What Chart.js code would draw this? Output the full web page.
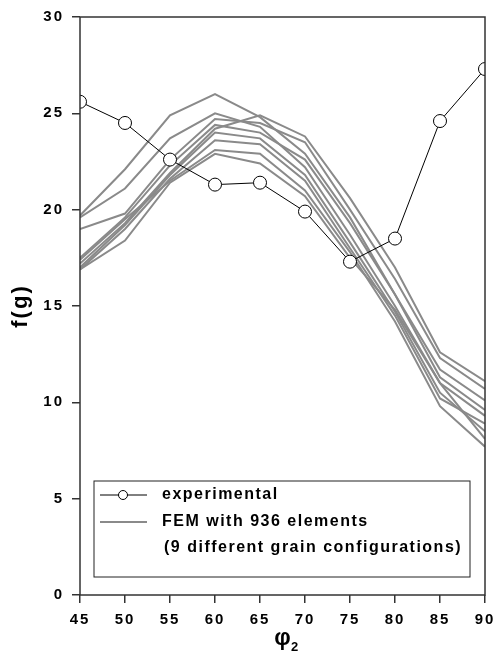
<!DOCTYPE html>
<html>
<head>
<meta charset="utf-8">
<script src="https://cdn.jsdelivr.net/npm/chart.js@4/dist/chart.umd.min.js"></script>
<style>
  html, body { margin: 0; padding: 0; background: #fff; }
  #wrap { width: 493px; height: 659px; }
</style>
</head>
<body>
<div id="wrap"><canvas id="chart"></canvas></div>
<script>
// phi2 angles
const angles = [45, 50, 55, 60, 65, 70, 75, 80, 85, 90];

// measured values
const experimental = [25.6, 24.5, 22.6, 21.3, 21.4, 19.9, 17.3, 18.5, 24.6, 27.3];

// FEM runs, 9 grain configurations
const fem1 = [19.7, 22.1, 24.9, 26.0, 24.8, 22.9, 19.6, 15.6, 11.7, 10.1];
const fem2 = [17.2, 19.3, 21.9, 24.2, 24.9, 23.8, 20.6, 17.0, 12.6, 11.1];
const fem3 = [19.6, 21.1, 23.7, 25.0, 24.3, 22.2, 18.7, 15.0, 11.0, 9.3];
const fem4 = [19.0, 19.8, 22.6, 24.7, 24.5, 23.5, 20.0, 16.4, 12.3, 10.7];
const fem5 = [17.5, 19.6, 22.3, 24.4, 24.0, 22.6, 19.3, 15.6, 11.3, 9.6];
const fem6 = [17.0, 19.2, 21.8, 24.0, 23.7, 21.8, 18.3, 14.7, 10.5, 8.5];
const fem7 = [16.9, 19.0, 21.6, 23.6, 23.4, 21.5, 18.0, 14.5, 10.2, 8.9];
const fem8 = [17.4, 19.5, 21.5, 23.1, 22.9, 21.0, 17.8, 14.2, 9.8, 7.7];
const fem9 = [16.9, 18.4, 21.4, 22.9, 22.4, 20.7, 17.5, 14.8, 11.0, 8.1];
const femRuns = [fem1, fem2, fem3, fem4, fem5, fem6, fem7, fem8, fem9];

const legendLabels = ['experimental', 'FEM with 936 elements', '(9 different grain configurations)'];

const toPoints = vals => vals.map((v, i) => ({ x: angles[i], y: v }));
const FONT = '"Liberation Sans", Arial, sans-serif';

const datasets = [{
    label: 'experimental',
    data: toPoints(experimental),
    borderColor: '#000',
    borderWidth: 1,
    pointRadius: 6.5,
    pointBackgroundColor: '#fff',
    pointBorderColor: '#000',
    pointBorderWidth: 1,
    tension: 0
}];
femRuns.forEach((run, i) => {
    datasets.push({
        label: 'FEM ' + (i + 1),
        data: toPoints(run),
        borderColor: '#8a8a8a',
        borderWidth: 2,
        pointRadius: 0,
        tension: 0
    });
});

// frame, legend box and x title drawn by hand
const decorPlugin = {
    id: 'decor',
    beforeDraw(chart) {
        // the original tick labels are loosely spaced
        chart.ctx.letterSpacing = '2px';
    },
    afterDatasetsDraw(chart) {
        const { ctx, chartArea: a } = chart;
        ctx.save();
        // frame
        ctx.strokeStyle = '#333';
        ctx.lineWidth = 1.5;
        ctx.strokeRect(a.left, a.top, a.right - a.left, a.bottom - a.top);

        // legend box
        const bx = a.left + 14, by = a.bottom - 114;
        const bw = a.right - a.left - 29, bh = 96;
        ctx.fillStyle = '#fff';
        ctx.fillRect(bx, by, bw, bh);
        ctx.strokeStyle = '#222';
        ctx.lineWidth = 1;
        ctx.strokeRect(bx, by, bw, bh);

        const y1 = by + 14, y2 = by + 41, y3 = by + 67;
        // experimental sample
        ctx.strokeStyle = '#000';
        ctx.beginPath();
        ctx.moveTo(bx + 6, y1); ctx.lineTo(bx + 53, y1);
        ctx.stroke();
        ctx.beginPath();
        ctx.arc(bx + 29, y1, 4.5, 0, Math.PI * 2);
        ctx.fillStyle = '#fff';
        ctx.fill();
        ctx.stroke();
        // FEM sample
        ctx.strokeStyle = '#8a8a8a';
        ctx.lineWidth = 2;
        ctx.beginPath();
        ctx.moveTo(bx + 6, y2); ctx.lineTo(bx + 53, y2);
        ctx.stroke();

        ctx.fillStyle = '#000';
        ctx.font = 'bold 16px ' + FONT;
        ctx.letterSpacing = '1.5px';
        ctx.textBaseline = 'middle';
        ctx.textAlign = 'left';
        ctx.fillText(legendLabels[0], bx + 68, y1);
        ctx.fillText(legendLabels[1], bx + 68, y2);
        ctx.fillText(legendLabels[2], bx + 70, y3);

        // x axis title phi_2
        ctx.letterSpacing = '0px';
        const cx = (a.left + a.right) / 2;
        ctx.font = 'bold 23px ' + FONT;
        ctx.textAlign = 'center';
        ctx.fillText('φ', cx, a.bottom + 44);
        ctx.font = 'bold 13px ' + FONT;
        ctx.fillText('2', cx + 12, a.bottom + 52);
        ctx.restore();
    }
};

new Chart(document.getElementById('chart'), {
    type: 'line',
    data: { datasets },
    options: {
        responsive: true,
        maintainAspectRatio: false,
        animation: false,
        events: [],
        layout: { padding: { top: 17, right: 8, left: 0, bottom: 0 } },
        plugins: {
            legend: { display: false },
            tooltip: { enabled: false }
        },
        scales: {
            x: {
                type: 'linear',
                min: 45,
                max: 90,
                border: { display: false },
                grid: { drawOnChartArea: false, tickLength: 8, color: '#333', lineWidth: 1.5 },
                ticks: {
                    stepSize: 5,
                    padding: 8,
                    color: '#000',
                    font: { family: FONT, size: 15, weight: 'bold' },
                    maxRotation: 0
                },
                afterFit(s) {
                    s.height = 64;
                    // let the end labels hang over the padding like the original
                    s.paddingLeft = 0;
                    s.paddingRight = 0;
                }
            },
            y: {
                min: 0,
                max: 30,
                border: { display: false },
                grid: { drawOnChartArea: false, tickLength: 8, color: '#333', lineWidth: 1.5 },
                ticks: {
                    stepSize: 5,
                    padding: 8,
                    color: '#000',
                    font: { family: FONT, size: 15, weight: 'bold' }
                },
                title: {
                    display: true,
                    text: 'f(g)',
                    color: '#000',
                    font: { family: FONT, size: 22, weight: 'bold' },
                    padding: { top: 8, bottom: 0 }
                },
                afterFit(s) {
                    s.width = 80;
                    s.paddingTop = 0;
                    s.paddingBottom = 0;
                }
            }
        }
    },
    plugins: [decorPlugin]
});
</script>
</body>
</html>
